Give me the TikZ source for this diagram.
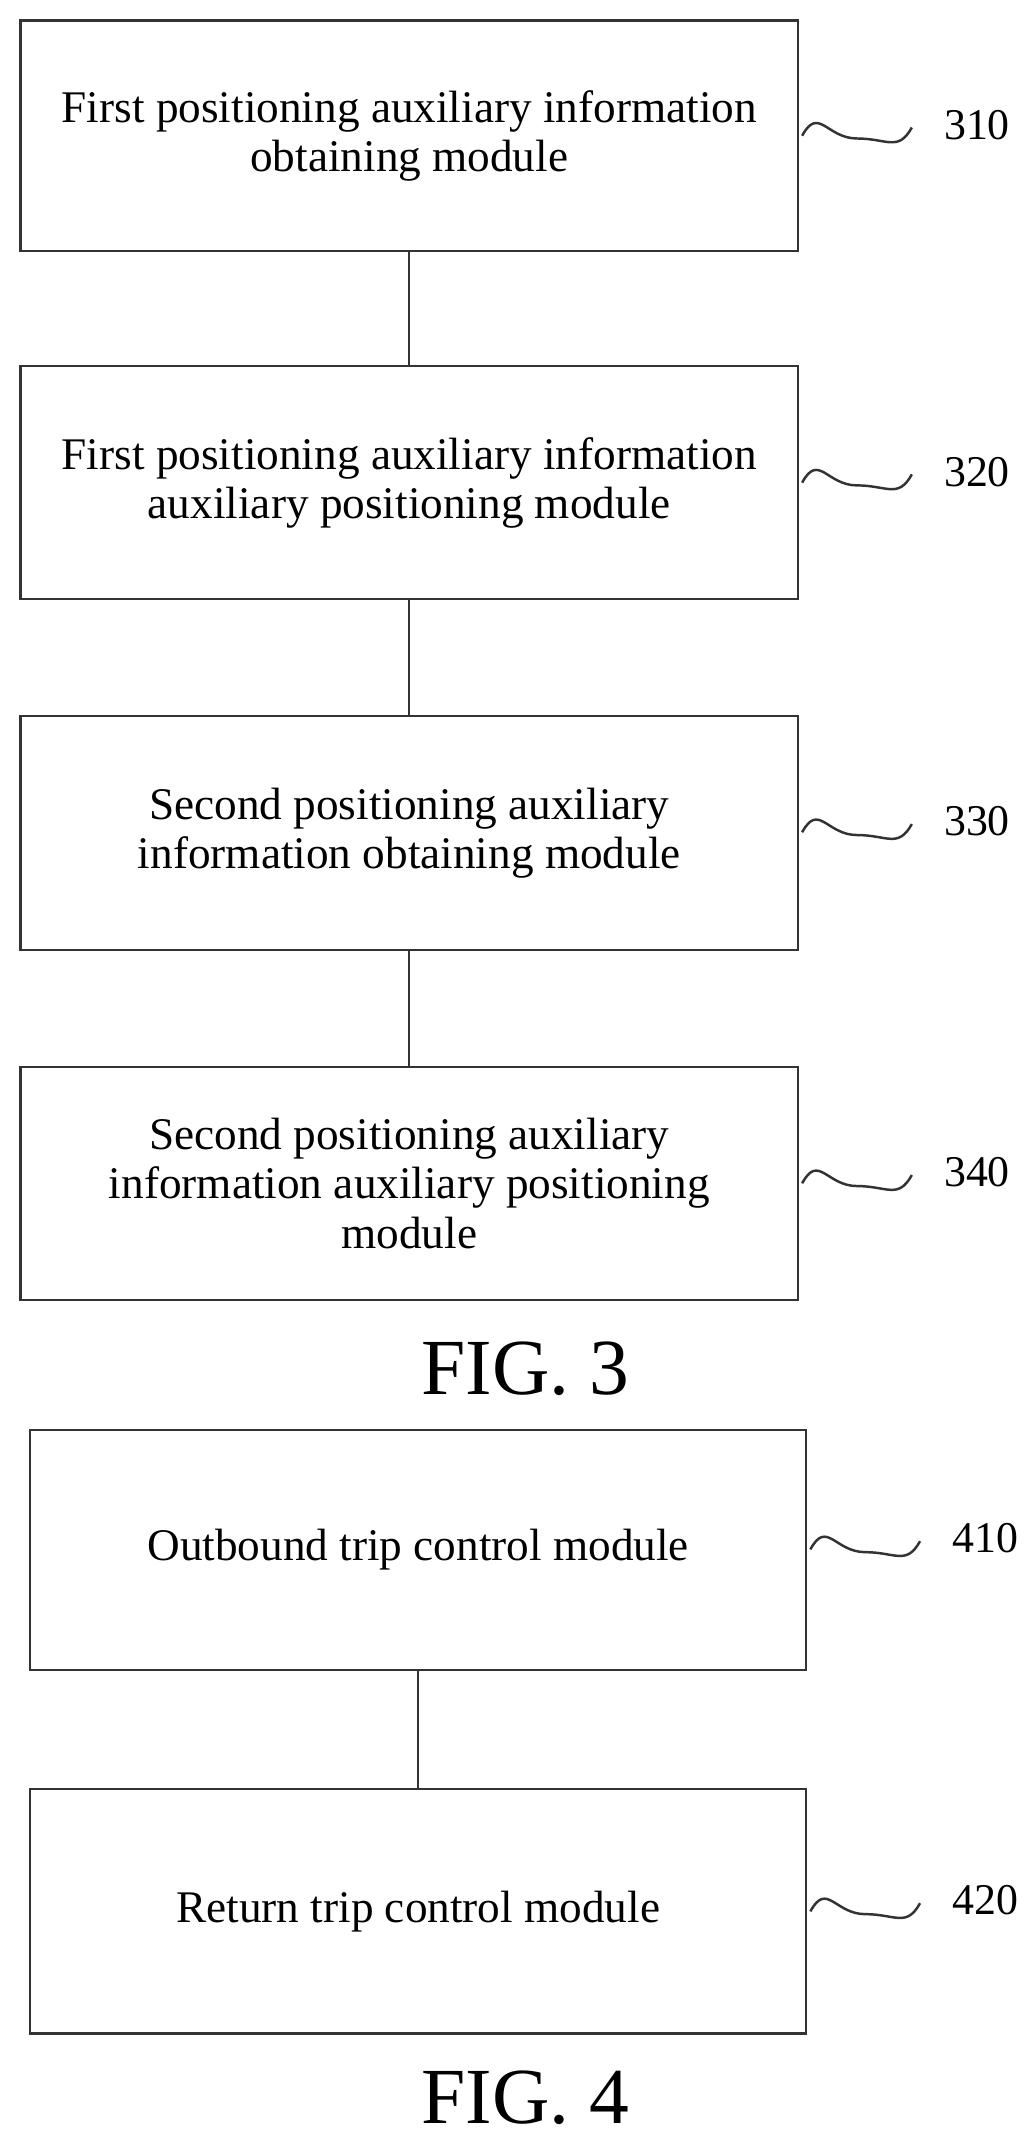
\documentclass[tikz,border=0pt]{standalone}
\usepackage{fontspec}
\setmainfont{Liberation Serif}
\begin{document}
\begin{tikzpicture}[x=1pt,y=-1pt,
  box/.style={draw=black!80,line width=1.6pt,minimum width=567pt,align=center,font=\fontsize{33}{36}\selectfont,inner sep=0pt},
  lbl/.style={font=\fontsize{32}{36}\selectfont,anchor=west},
  fig/.style={font=\fontsize{58}{60}\selectfont},
  ln/.style={black!80,line width=1.6pt}]
\useasboundingbox (0,0) rectangle (750,1560);
\node[box,minimum height=168pt] (b1) at (298.5,99) {First positioning auxiliary information\\obtaining module};
\node[box,minimum height=170pt] (b2) at (298.5,352) {First positioning auxiliary information\\auxiliary positioning module};
\node[box,minimum height=171pt] (b3) at (298.5,607.5) {Second positioning auxiliary\\information obtaining module};
\node[box,minimum height=170pt] (b4) at (298.5,863) {Second positioning auxiliary\\information auxiliary positioning\\module};
\node[fig] (f3) at (383,998) {FIG. 3};
\node[box,minimum height=175pt,minimum width=566pt] (b5) at (305,1130.5) {Outbound trip control module};
\node[box,minimum height=178pt,minimum width=566pt] (b6) at (305,1394) {Return trip control module};
\node[fig] (f4) at (383,1530) {FIG. 4};
\draw[ln] (b1) -- (b2);
\draw[ln] (b2) -- (b3);
\draw[ln] (b3) -- (b4);
\draw[ln] (b5) -- (b6);
\foreach \b/\y/\t/\xo in {b1/99/310/582,b2/352/320/582,b3/607/330/582,b4/863/340/582,b5/1130/410/588,b6/1394/420/588}{
  \coordinate (s\t) at (\xo+3,\y);
  \draw[black!80,line width=1.8pt] (s\t) .. controls ++(12,-22) and ++(-22,0) .. ++(40,2) .. controls ++(22,0) and ++(-10,18) .. ++(40,-8) coordinate (e\t);
  \node[lbl] (l\t) at ([xshift=20pt,yshift=2pt]e\t) {\t};
}
\end{tikzpicture}
\end{document}
